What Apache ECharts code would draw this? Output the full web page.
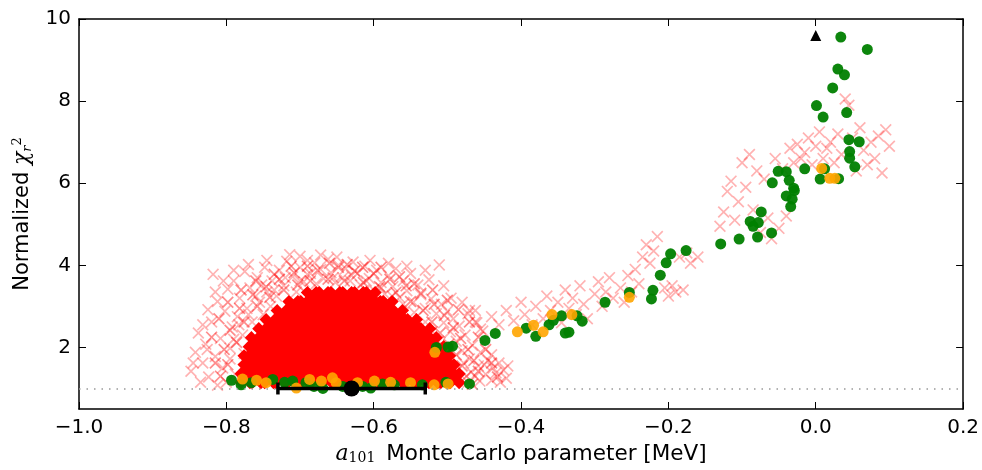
<!DOCTYPE html>
<html>
<head>
<meta charset="utf-8">
<script src="https://cdn.jsdelivr.net/npm/echarts@6/dist/echarts.min.js"></script>
<style>
html, body { margin: 0; padding: 0; background: #fff; }
#chart { width: 982px; height: 470px; }
</style>
</head>
<body>
<div id="chart"></div>
<script>
// tick labels
var xTicks = [-1.0, -0.8, -0.6, -0.4, -0.2, 0.0, 0.2];
var yTicks = [2, 4, 6, 8, 10];
var refLevel = 1;

// green circles
var greenPts = [
  [0.034,9.56],[0.070,9.26],[0.030,8.78],[0.039,8.64],[0.023,8.32],[0.001,7.89],[0.010,7.61],[0.042,7.72],
  [0.045,7.06],[0.059,7.01],[0.046,6.77],[0.046,6.61],[0.053,6.40],[-0.051,6.29],[-0.040,6.28],[-0.015,6.35],
  [0.012,6.35],[0.006,6.10],[0.031,6.11],[-0.059,6.01],[-0.036,6.07],[-0.030,5.88],[-0.040,5.69],[-0.029,5.82],
  [-0.032,5.61],[-0.034,5.43],[-0.074,5.30],[-0.089,5.07],[-0.078,5.04],[-0.085,4.95],[-0.104,4.64],[-0.079,4.69],
  [-0.060,4.79],[-0.129,4.52],[-0.176,4.36],[-0.197,4.28],[-0.203,4.06],[-0.211,3.76],[-0.221,3.39],[-0.223,3.18],
  [-0.253,3.34],[-0.286,3.10],[-0.317,2.64],[-0.324,2.77],[-0.345,2.77],[-0.356,2.66],[-0.362,2.55],[-0.340,2.35],
  [-0.335,2.37],[-0.380,2.27],[-0.393,2.47],[-0.435,2.34],[-0.449,2.17],[-0.493,2.03],[-0.499,2.01],[-0.515,2.00],
  [-0.470,1.11],[-0.534,1.09],[-0.502,1.15],
  [-0.793,1.20],[-0.780,1.09],[-0.766,1.14],[-0.737,1.22],[-0.721,1.15],[-0.710,1.18],[-0.692,1.14],[-0.681,1.05],
  [-0.669,1.00],[-0.642,1.05],[-0.615,1.05],[-0.604,1.01],[-0.588,1.11],[-0.572,1.09]
];
// green circles hidden under the red crosses
var buriedPts = [[-0.544,1.85],[-0.559,1.87]];

// orange circles
var orangePts = [
  [0.008,6.36],[0.019,6.12],[0.026,6.12],[-0.253,3.22],[-0.331,2.80],[-0.358,2.80],[-0.370,2.38],[-0.383,2.54],
  [-0.405,2.38],[-0.517,1.88],[-0.499,1.11],[-0.518,1.09],[-0.550,1.14],[-0.778,1.23],[-0.759,1.20],[-0.746,1.14],
  [-0.705,1.01],[-0.687,1.22],[-0.671,1.18],[-0.656,1.26],[-0.651,1.14],[-0.622,1.14],[-0.599,1.18],[-0.577,1.15]
];

// dense core of the red cloud, one row per y level
var coreRowY = [1.25, 1.47, 1.69, 1.91, 2.13, 2.35, 2.57, 2.79, 3.01, 3.23];
var coreRowX = [
  [-0.774,-0.759,-0.742,-0.727,-0.711,-0.694,-0.679,-0.663,-0.647,-0.630,-0.615,-0.599,-0.582,-0.567,-0.551,-0.535,-0.519,-0.503,-0.490],
  [-0.769,-0.752,-0.737,-0.720,-0.705,-0.689,-0.672,-0.657,-0.641,-0.624,-0.609,-0.593,-0.577,-0.561,-0.545,-0.529,-0.513,-0.497],
  [-0.770,-0.756,-0.740,-0.725,-0.708,-0.692,-0.676,-0.661,-0.644,-0.628,-0.613,-0.596,-0.580,-0.565,-0.549,-0.532,-0.517,-0.503],
  [-0.763,-0.748,-0.732,-0.716,-0.700,-0.684,-0.668,-0.653,-0.636,-0.620,-0.605,-0.588,-0.572,-0.557,-0.541,-0.525,-0.511],
  [-0.760,-0.744,-0.728,-0.712,-0.696,-0.680,-0.664,-0.648,-0.632,-0.616,-0.600,-0.584,-0.568,-0.552,-0.536,-0.521],
  [-0.750,-0.735,-0.719,-0.703,-0.687,-0.671,-0.656,-0.640,-0.624,-0.608,-0.592,-0.576,-0.560,-0.544,-0.530],
  [-0.740,-0.724,-0.708,-0.692,-0.676,-0.660,-0.644,-0.628,-0.612,-0.596,-0.580,-0.564,-0.548],
  [-0.725,-0.710,-0.694,-0.679,-0.663,-0.647,-0.631,-0.615,-0.599,-0.583,-0.567],
  [-0.709,-0.693,-0.677,-0.661,-0.645,-0.629,-0.613,-0.597,-0.581],
  [-0.684,-0.668,-0.652,-0.636,-0.620,-0.604]
];

// sparse red crosses around the cloud and along the trend
var sparsePts = [
  [-0.848,1.42],[-0.842,1.88],[-0.838,2.35],[-0.832,1.62],[-0.828,2.08],[-0.824,1.28],[-0.820,2.62],[-0.818,3.78],
  [-0.815,1.78],[-0.812,3.12],[-0.808,2.22],[-0.805,1.50],[-0.802,2.88],[-0.798,3.42],[-0.795,1.98],[-0.792,2.50],
  [-0.790,3.62],[-0.788,1.35],[-0.785,2.75],[-0.782,3.20],[-0.778,2.30],[-0.775,3.85],[-0.772,2.95],[-0.770,1.60],
  [-0.768,3.45],[-0.765,2.62],[-0.762,2.05],[-0.758,3.70],[-0.755,3.10],[-0.750,2.80],[-0.748,3.95],[-0.745,3.35],
  [-0.740,3.00],[-0.738,3.62],[-0.812,1.08],[-0.800,1.15],[-0.795,1.72],[-0.790,2.20],[-0.783,2.55],[-0.776,1.85],
  [-0.770,2.80],[-0.760,3.25],[-0.752,3.52],[-0.735,3.40],[-0.720,3.70],[-0.700,3.62],[-0.690,3.78],[-0.655,3.70],
  [-0.732,3.25],[-0.728,3.88],[-0.722,3.50],[-0.718,4.10],[-0.714,4.26],[-0.710,3.72],[-0.705,3.35],[-0.700,3.95],
  [-0.695,3.60],[-0.690,4.12],[-0.686,3.80],[-0.680,4.06],[-0.678,3.55],[-0.672,3.90],[-0.668,3.68],[-0.662,4.15],
  [-0.658,3.82],[-0.652,3.58],[-0.648,4.00],[-0.642,3.70],[-0.638,3.92],[-0.632,3.62],[-0.628,4.08],[-0.622,3.80],
  [-0.618,3.52],[-0.612,3.98],[-0.606,3.68],[-0.600,3.40],[-0.596,3.88],[-0.590,3.58],[-0.585,3.30],[-0.580,3.75],
  [-0.574,3.48],[-0.570,3.92],[-0.565,3.22],[-0.560,3.62],[-0.555,3.38],[-0.550,3.80],[-0.546,3.10],[-0.540,3.52],
  [-0.536,3.28],[-0.530,2.95],[-0.525,3.65],[-0.522,3.18],[-0.515,2.82],[-0.511,4.01],[-0.508,3.05],[-0.505,2.60],
  [-0.630,3.75],[-0.610,3.62],[-0.590,3.45],[-0.575,3.25],[-0.560,3.05],[-0.545,2.85],[-0.530,2.62],[-0.520,2.38],
  [-0.512,2.15],[-0.505,1.92],[-0.497,1.70],[-0.490,1.15],[-0.500,1.35],
  [-0.835,1.15],[-0.845,1.62],[-0.826,1.95],[-0.832,2.55],[-0.825,2.92],[-0.815,3.35],[-0.804,3.62],[-0.790,3.88],
  [-0.770,4.02],[-0.745,4.12],[-0.700,4.22],[-0.672,4.25],[-0.650,4.20],[-0.605,4.12],[-0.580,4.05],[-0.555,3.98],
  [-0.530,3.88],[-0.505,3.50],[-0.495,3.20],[-0.480,3.10],[-0.462,2.90],
  [-0.500,2.88],[-0.496,2.38],[-0.492,2.70],[-0.488,2.15],[-0.484,2.52],[-0.480,1.92],[-0.476,2.30],[-0.472,2.82],
  [-0.470,1.72],[-0.466,2.05],[-0.462,2.62],[-0.458,1.55],[-0.455,1.88],[-0.452,2.40],[-0.448,1.35],[-0.445,1.68],
  [-0.440,1.20],[-0.438,1.50],[-0.434,1.38],[-0.430,1.62],[-0.428,1.15],[-0.424,1.45],[-0.420,1.25],[-0.418,1.55],
  [-0.440,1.82],[-0.456,1.18],[-0.468,1.40],[-0.478,1.62],[-0.462,1.30],[-0.450,1.58],[-0.472,1.15],[-0.485,1.25],
  [-0.490,1.45],
  [-0.470,2.90],[-0.460,2.60],[-0.455,2.45],[-0.440,2.75],[-0.430,2.55],[-0.420,2.90],[-0.410,2.65],[-0.400,3.10],
  [-0.395,2.80],[-0.385,2.55],[-0.380,3.00],[-0.370,2.70],[-0.365,3.25],[-0.360,2.90],[-0.350,3.10],[-0.345,2.60],
  [-0.340,3.40],[-0.335,2.95],[-0.330,3.20],[-0.325,2.80],[-0.320,3.50],[-0.315,3.05],[-0.310,2.70],[-0.300,3.30],
  [-0.295,3.60],[-0.290,3.00],[-0.285,3.35],[-0.280,3.70],[-0.275,3.20],[-0.265,3.45],[-0.260,3.10],[-0.255,3.75],
  [-0.250,3.35],[-0.245,3.90],[-0.240,3.55],[-0.235,4.20],[-0.230,4.50],[-0.225,4.05],[-0.220,4.35],[-0.215,4.70],
  [-0.205,3.45],[-0.200,3.25],[-0.195,3.50],[-0.190,3.35],[-0.185,4.20],[-0.180,3.40],[-0.175,4.30],[-0.170,4.05],
  [-0.160,4.20],[-0.130,4.95],[-0.125,5.30],[-0.120,5.80],[-0.115,6.05],[-0.110,5.10],[-0.105,5.55],[-0.100,6.50],
  [-0.095,5.90],[-0.090,6.70],[-0.085,5.35],[-0.080,6.30],[-0.075,4.80],[-0.070,6.10],[-0.065,5.15],[-0.060,4.65],
  [-0.055,6.60],[-0.050,4.90],[-0.045,6.35],[-0.040,5.20],[-0.035,6.85],[-0.030,6.50],[-0.025,6.95],[-0.020,6.60],
  [-0.015,6.75],[-0.010,7.10],[-0.005,6.45],[0.000,6.90],[0.005,7.25],[0.010,6.60],[0.015,6.85],[0.020,7.00],
  [0.025,6.50],[0.030,7.20],[0.035,6.70],[0.040,8.05],[0.045,7.90],[0.050,7.10],[0.055,6.30],[0.060,7.35],
  [0.065,6.80],[0.070,6.45],[0.075,7.00],[0.080,6.60],[0.085,7.15],[0.090,6.25],[0.095,7.30],[0.100,6.90]
];

// medium density crosses scattered along the edge of the core
var ringPts = [
  [-0.808,1.30],[-0.798,1.58],[-0.803,1.95],[-0.786,2.12],[-0.795,2.42],[-0.776,2.62],[-0.782,2.95],[-0.758,3.00],
  [-0.764,3.28],[-0.741,3.22],[-0.746,3.48],[-0.722,3.40],[-0.728,3.66],[-0.703,3.52],[-0.708,3.82],[-0.686,3.62],
  [-0.676,3.88],[-0.662,3.66],[-0.648,3.95],[-0.640,3.62],[-0.626,3.86],[-0.614,3.58],[-0.600,3.80],[-0.592,3.48],
  [-0.578,3.66],[-0.570,3.34],[-0.556,3.50],[-0.550,3.12],[-0.536,3.32],[-0.533,2.90],[-0.518,3.05],[-0.521,2.62],
  [-0.504,2.78],[-0.510,2.35],[-0.492,2.48],[-0.498,2.08],[-0.482,2.22],[-0.488,1.82],[-0.472,1.95],[-0.480,1.55],
  [-0.464,1.68],[-0.474,1.30],[-0.458,1.42],[-0.466,1.10],
  [-0.815,1.62],[-0.820,2.25],[-0.810,2.70],[-0.798,3.10],[-0.780,3.40],[-0.760,3.62],[-0.735,3.78],[-0.712,3.98],
  [-0.690,3.98],[-0.660,4.05],[-0.636,4.02],[-0.615,3.95],[-0.590,3.95],[-0.565,3.72],[-0.545,3.55],[-0.520,3.40],
  [-0.500,3.15],[-0.485,2.92],[-0.470,2.62],[-0.458,2.25],[-0.448,1.95],[-0.440,1.62],[-0.432,1.28]
];

// best value with its error bar, and the marker at the top
var bestFit = [[-0.63, 1.0, -0.73, -0.53]];
var topMarker = [[0.0, 9.6]];

var corePts = [];
coreRowY.forEach(function (y, i) {
  coreRowX[i].forEach(function (x) { corePts.push([x, y]); });
});

var thinX = 'path://M2,0L10,8L18,0L20,2L12,10L20,18L18,20L10,12L2,20L0,18L8,10L0,2Z';
var fatX = 'path://M6,0L10,4L14,0L20,6L16,10L20,14L14,20L10,16L6,20L0,14L4,10L0,6Z';
var font = 'DejaVu Sans';

function fmt(v) {
  if (Math.abs(v) < 1e-9) v = 0;
  return (v < 0 ? '\u2212' : '') + Math.abs(v).toFixed(1);
}

var myChart = echarts.init(document.getElementById('chart'));
var frameLine = { lineStyle: { color: '#000', width: 1.5 }, onZero: false };
var inTick = { inside: true, length: 7, lineStyle: { color: '#000', width: 1 } };

var option = {
  animation: false,
  backgroundColor: '#fff',
  grid: { left: 79, right: 17, top: 19, bottom: 61 },
  xAxis: [{
    type: 'value', min: -1, max: 0.2, interval: 0.2,
    axisLine: frameLine, axisTick: inTick, splitLine: { show: false },
    axisLabel: { color: '#000', fontSize: 20, fontFamily: font, margin: 9, formatter: fmt },
    name: '{a|a}{s|101} Monte Carlo parameter [MeV]',
    nameLocation: 'middle', nameGap: 34,
    nameTextStyle: {
      color: '#000', fontSize: 21.5, fontFamily: font,
      rich: {
        a: { fontFamily: 'DejaVu Serif', fontStyle: 'italic', fontSize: 22, color: '#000' },
        s: { fontFamily: 'DejaVu Serif', fontSize: 14, color: '#000', verticalAlign: 'bottom', padding: [8, 4, 0, 0] }
      }
    }
  }, {
    type: 'value', position: 'top', min: -1, max: 0.2, interval: 0.2,
    axisLine: frameLine, axisTick: inTick, axisLabel: { show: false }, splitLine: { show: false }
  }],
  yAxis: [{
    type: 'value', min: 0.5, max: 10,
    axisLine: frameLine,
    axisTick: { inside: true, length: 7, lineStyle: { color: '#000', width: 1 }, customValues: yTicks },
    splitLine: { show: false },
    axisLabel: { color: '#000', fontSize: 20, fontFamily: font, margin: 8, customValues: yTicks },
    name: 'Normalized {chi|\u03c7}{sub|r}{sup|2}',
    nameLocation: 'middle', nameGap: 45, nameRotate: 90,
    nameTextStyle: {
      color: '#000', fontSize: 21, fontFamily: font,
      rich: {
        chi: { fontFamily: 'DejaVu Serif', fontStyle: 'italic', fontSize: 22, color: '#000' },
        sub: { fontFamily: 'DejaVu Serif', fontStyle: 'italic', fontSize: 13, color: '#000', verticalAlign: 'bottom', padding: [10, 0, 0, 0] },
        sup: { fontFamily: 'DejaVu Serif', fontSize: 13, color: '#000', verticalAlign: 'top', padding: [0, 0, 10, 0] }
      }
    }
  }, {
    type: 'value', position: 'right', min: 0.5, max: 10,
    axisLine: frameLine,
    axisTick: { inside: true, length: 7, lineStyle: { color: '#000', width: 1 }, customValues: yTicks },
    axisLabel: { show: false }, splitLine: { show: false }
  }],
  series: [
    {
      type: 'scatter', data: buriedPts, symbol: 'circle', symbolSize: 11, z: 1,
      itemStyle: { color: '#008000', opacity: 0.9 }
    },
    {
      type: 'scatter', data: [], z: 1,
      markLine: {
        silent: true, symbol: 'none', label: { show: false },
        lineStyle: { color: '#999', width: 1.5, type: [1.5, 6] },
        data: [{ yAxis: refLevel }]
      }
    },
    {
      type: 'scatter', data: sparsePts, symbol: thinX, symbolSize: 12, z: 2,
      itemStyle: { color: '#ff0000', opacity: 0.3 }
    },
    {
      type: 'scatter', data: ringPts, symbol: thinX, symbolSize: 12, z: 2,
      itemStyle: { color: '#ff0000', opacity: 0.45 }
    },
    {
      type: 'scatter', data: corePts, symbol: fatX, symbolSize: 22, z: 2,
      itemStyle: { color: '#ff0000', opacity: 1 }
    },
    {
      type: 'scatter', data: greenPts, symbol: 'circle', symbolSize: 11, z: 3,
      itemStyle: { color: '#008000', opacity: 0.95 }
    },
    {
      type: 'scatter', data: orangePts, symbol: 'circle', symbolSize: 11, z: 3,
      itemStyle: { color: '#ffa500', opacity: 0.9 }
    },
    {
      type: 'custom', data: bestFit, z: 10,
      encode: { x: 0, y: 1 },
      renderItem: function (params, api) {
        var y = api.value(1);
        var p1 = api.coord([api.value(2), y]);
        var p2 = api.coord([api.value(3), y]);
        var st = { stroke: '#000', lineWidth: 3.5 };
        return {
          type: 'group',
          children: [
            { type: 'line', shape: { x1: p1[0], y1: p1[1], x2: p2[0], y2: p2[1] }, style: st },
            { type: 'line', shape: { x1: p1[0], y1: p1[1] - 6, x2: p1[0], y2: p1[1] + 6 }, style: st },
            { type: 'line', shape: { x1: p2[0], y1: p2[1] - 6, x2: p2[0], y2: p2[1] + 6 }, style: st }
          ]
        };
      }
    },
    {
      type: 'scatter', data: bestFit.map(function (d) { return [d[0], d[1]]; }),
      symbol: 'circle', symbolSize: 16, z: 11, itemStyle: { color: '#000', opacity: 1 }
    },
    {
      type: 'scatter', data: topMarker, symbol: 'triangle', symbolSize: 11, z: 11,
      itemStyle: { color: '#000', opacity: 1 }
    }
  ]
};

myChart.setOption(option);
</script>
</body>
</html>
